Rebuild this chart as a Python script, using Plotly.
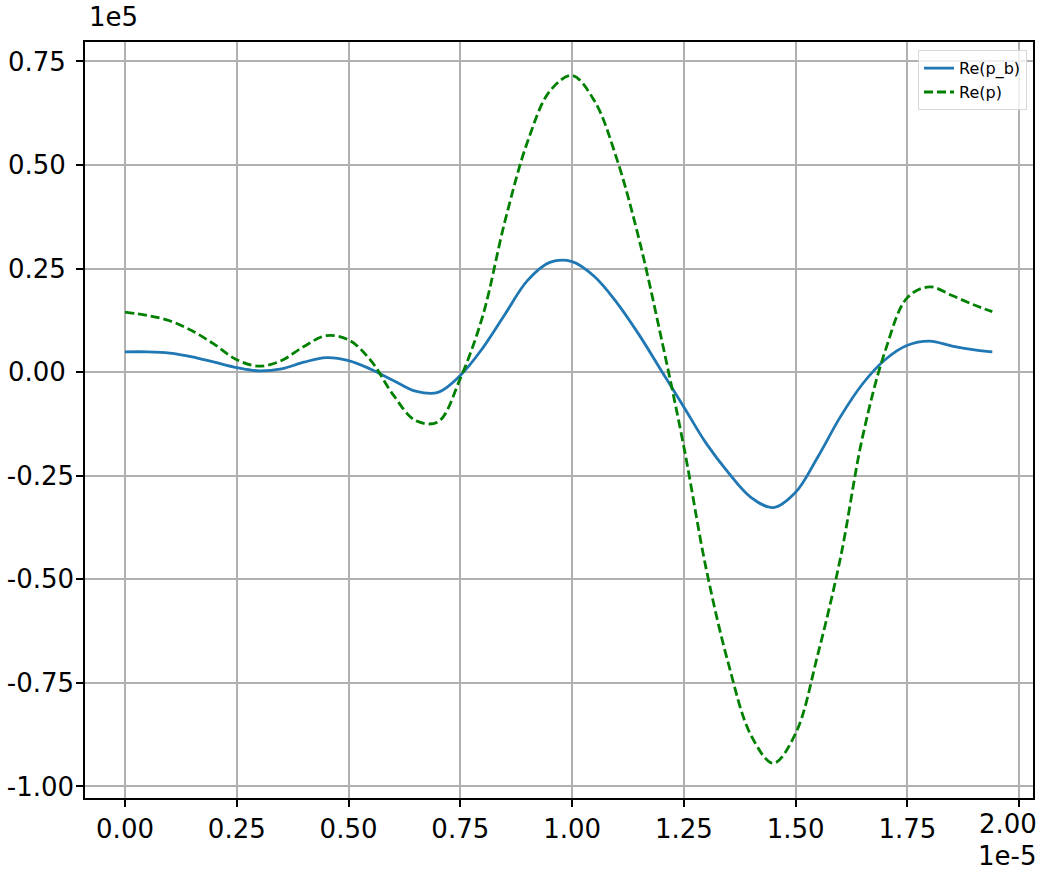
import plotly.graph_objects as go

# x in units of 1e-5, y in units of 1e5
x = [0.00, 0.05, 0.10, 0.15, 0.20, 0.25, 0.30, 0.35, 0.40, 0.45, 0.50, 0.55, 0.60, 0.65,
     0.70, 0.75, 0.80, 0.85, 0.90, 0.95, 1.00, 1.05, 1.10, 1.15, 1.20, 1.25, 1.30, 1.35,
     1.40, 1.45, 1.50, 1.55, 1.60, 1.65, 1.70, 1.75, 1.80, 1.85, 1.90, 1.94]

re_pb = [0.049, 0.049, 0.046, 0.037, 0.024, 0.011, 0.003, 0.008, 0.024, 0.035, 0.028, 0.007,
         -0.020, -0.046, -0.049, -0.008, 0.058, 0.140, 0.221, 0.265, 0.267, 0.231, 0.168,
         0.090, 0.003, -0.084, -0.172, -0.243, -0.302, -0.327, -0.290, -0.204, -0.108,
         -0.028, 0.030, 0.065, 0.075, 0.063, 0.054, 0.049]

re_p = [0.145, 0.137, 0.124, 0.100, 0.067, 0.030, 0.0145, 0.028, 0.062, 0.088, 0.078, 0.028,
        -0.055, -0.117, -0.120, -0.015, 0.135, 0.365, 0.555, 0.678, 0.716, 0.655, 0.515,
        0.320, 0.080, -0.180, -0.475, -0.705, -0.876, -0.944, -0.872, -0.680, -0.450,
        -0.155, 0.050, 0.180, 0.206, 0.185, 0.162, 0.146]

xticks = [0.0, 0.25, 0.5, 0.75, 1.0, 1.25, 1.5, 1.75, 2.0]
xticklabels = ["0.00", "0.25", "0.50", "0.75", "1.00", "1.25", "1.50", "1.75", "2.00"]
yticks = [0.75, 0.5, 0.25, 0.0, -0.25, -0.5, -0.75, -1.0]
yticklabels = ["0.75", "0.50", "0.25", "0.00", "-0.25", "-0.50", "-0.75", "-1.00"]

NB = "\u00a0"
# matplotlib-like: non-negative labels are padded so all labels start at the same left edge
ytext = [t if t.startswith("-") else t + NB for t in yticklabels]
# last x label drawn as an annotation (shifted left to stay inside the canvas)
xtext = xticklabels[:-1] + [""]

fig = go.Figure()
fig.add_trace(go.Scatter(x=x, y=re_pb, mode="lines", name="Re(p_b)",
                         line=dict(color="#1f77b4", width=2.8, shape="spline", smoothing=1.0)))
fig.add_trace(go.Scatter(x=x, y=re_p, mode="lines", name="Re(p)",
                         line=dict(color="#008000", width=2.8, dash="9px,4px",
                                   shape="spline", smoothing=1.0)))

font = "DejaVu Sans, Liberation Sans, sans-serif"
axis_common = dict(showgrid=True, gridcolor="#b0b0b0", gridwidth=1.5, zeroline=False,
                   showline=True, linecolor="black", linewidth=1.5, mirror=True,
                   ticks="outside", ticklen=7, tickwidth=1.5, tickcolor="black",
                   tickfont=dict(size=26, family=font, color="black"), automargin=False)

fig.update_layout(
    width=1042, height=874,
    margin=dict(l=85, r=9, t=42, b=76),
    paper_bgcolor="white", plot_bgcolor="white",
    font=dict(family=font, size=26, color="black"),
    showlegend=True,
    legend=dict(x=0.9937, y=0.989, xanchor="right", yanchor="top",
                bgcolor="rgba(255,255,255,0.8)", bordercolor="#d8d8d8", borderwidth=1,
                font=dict(size=16, family=font), tracegroupgap=0),
    xaxis=dict(range=[-0.0895, 2.031], tickvals=xticks, ticktext=xtext, **axis_common),
    yaxis=dict(range=[-1.028, 0.797], tickvals=yticks, ticktext=ytext,
               ticklabelstandoff=-3, **axis_common),
    annotations=[
        dict(text="1e5", xref="paper", yref="paper", x=0, y=1, xanchor="left",
             yanchor="bottom", yshift=8, xshift=2, showarrow=False, font=dict(size=26)),
        dict(text="1e-5", xref="paper", yref="paper", x=1, y=0, xanchor="right",
             yanchor="top", yshift=-41, xshift=5, showarrow=False, font=dict(size=26)),
        dict(text=xticklabels[-1], xref="x", yref="paper", x=xticks[-1], y=0,
             xanchor="center", yanchor="top", yshift=-9, xshift=-11, showarrow=False,
             font=dict(size=26)),
    ],
)

fig.write_html("out.html", config={"displayModeBar": False},
               post_script="document.body.style.margin='0';")
